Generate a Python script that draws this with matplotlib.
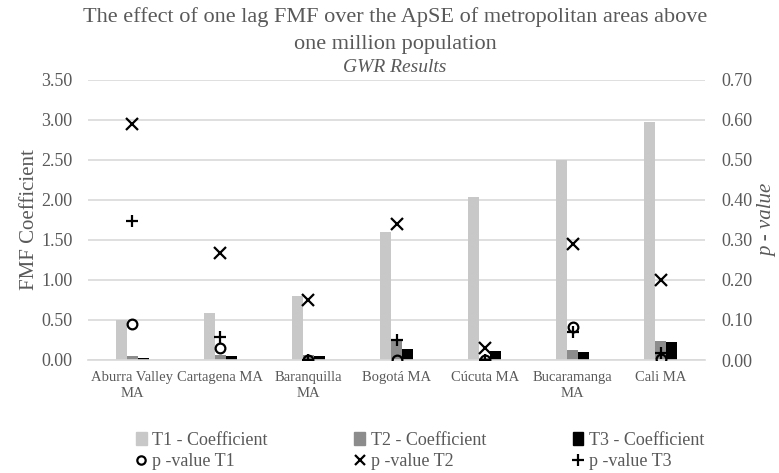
import matplotlib
matplotlib.use("Agg")
import matplotlib.pyplot as plt
import numpy as np
from matplotlib.lines import Line2D
from matplotlib.patches import Patch

categories = ["Aburra Valley\nMA", "Cartagena MA", "Baranquilla\nMA", "Bogotá MA",
              "Cúcuta MA", "Bucaramanga\nMA", "Cali MA"]
t1_coef = [0.50, 0.59, 0.80, 1.60, 2.04, 2.50, 2.97]
t2_coef = [0.05, 0.06, 0.06, 0.25, 0.03, 0.12, 0.24]
t3_coef = [0.02, 0.05, 0.05, 0.14, 0.11, 0.10, 0.22]
p_t1 = [0.089, 0.029, 0.000, 0.000, 0.000, 0.083, 0.002]
p_t2 = [0.590, 0.268, 0.150, 0.340, 0.031, 0.290, 0.200]
p_t3 = [0.348, 0.058, 0.001, 0.050, 0.001, 0.070, 0.017]
left_ticks = [0.0, 0.5, 1.0, 1.5, 2.0, 2.5, 3.0, 3.5]
right_ticks = [0.0, 0.1, 0.2, 0.3, 0.4, 0.5, 0.6, 0.7]

plt.rcParams['font.family'] = ['Liberation Serif', 'DejaVu Serif']
TXT = '#595959'
C1, C2, C3 = '#c8c8c8', '#8c8c8c', '#000000'

fig = plt.figure(figsize=(7.79, 4.73), dpi=100)
ax = fig.add_axes([88/779, 1-360/473, (705-88)/779, 280/473])
ax2 = ax.twinx()

x = np.arange(len(categories))
w = 0.125
ax.bar(x - w, t1_coef, w, color=C1, zorder=2)
ax.bar(x, t2_coef, w, color=C2, zorder=2)
ax.bar(x + w, t3_coef, w, color=C3, zorder=2)

ax.set_ylim(0, 3.5)
ax.set_yticks(left_ticks)
ax.set_yticklabels([f"{v:.2f}" for v in left_ticks])
ax.set_xlim(-0.5, len(categories) - 0.5)
ax.set_xticks(x)
ax.set_xticklabels(categories, linespacing=1.3)
ax.grid(axis='y', color='#d9d9d9', linewidth=1.2, zorder=0)
ax.set_axisbelow(True)

ax2.set_ylim(0, 0.7)
ax2.set_yticks(right_ticks)
ax2.set_yticklabels([f"{v:.2f}" for v in right_ticks])
ax2.plot(x, p_t1, linestyle='none', marker='o', markersize=7, markerfacecolor='none',
         markeredgecolor='black', markeredgewidth=1.6, zorder=3)
ax2.plot(x, p_t2, linestyle='none', marker='x', markersize=8, color='black',
         markeredgewidth=1.6, zorder=3)
ax2.plot(x, p_t3, linestyle='none', marker='+', markersize=9, color='black',
         markeredgewidth=1.6, zorder=3)

for a in (ax, ax2):
    for s in a.spines.values():
        s.set_visible(False)
    a.tick_params(length=0, colors=TXT, labelsize=13)
ax.tick_params(axis='y', pad=11)
ax2.tick_params(axis='y', pad=12)
ax.tick_params(axis='x', pad=8, labelsize=10.5)
ax.spines['bottom'].set_visible(True)
ax.spines['bottom'].set_color('#d9d9d9')
ax.spines['bottom'].set_linewidth(1.2)

ax.set_ylabel("FMF Coefficient", color=TXT, fontsize=15, labelpad=2)
ax2.set_ylabel("p - value", color=TXT, fontsize=15, style='italic', labelpad=4)

cx = 395/779
fig.text(cx, 1-17/473, "The effect of one lag FMF over the ApSE of metropolitan areas above",
         ha='center', va='center', fontsize=16, color=TXT)
fig.text(cx, 1-45/473, "one million population", ha='center', va='center', fontsize=16, color=TXT)
fig.text(cx, 1-68/473, "GWR Results", ha='center', va='center', fontsize=14,
         color=TXT, style='italic')

handles = [
    Patch(color=C1, label="T1 - Coefficient"),
    Line2D([], [], linestyle='none', marker='o', markerfacecolor='none', markeredgecolor='black',
           markeredgewidth=1.6, markersize=6, label="p -value T1"),
    Patch(color=C2, label="T2 - Coefficient"),
    Line2D([], [], linestyle='none', marker='x', color='black', markeredgewidth=1.6,
           markersize=7, label="p -value T2"),
    Patch(color=C3, label="T3 - Coefficient"),
    Line2D([], [], linestyle='none', marker='+', color='black', markeredgewidth=1.6,
           markersize=8, label="p -value T3"),
]
leg = fig.legend(handles=handles, ncol=3, loc='center', bbox_to_anchor=(420/779, 1-451/473),
                 frameon=False, fontsize=13, handlelength=0.6, handletextpad=0.3,
                 columnspacing=4.8, labelspacing=0.25)
for t in leg.get_texts():
    t.set_color(TXT)

fig.savefig("out.png", dpi=100)
